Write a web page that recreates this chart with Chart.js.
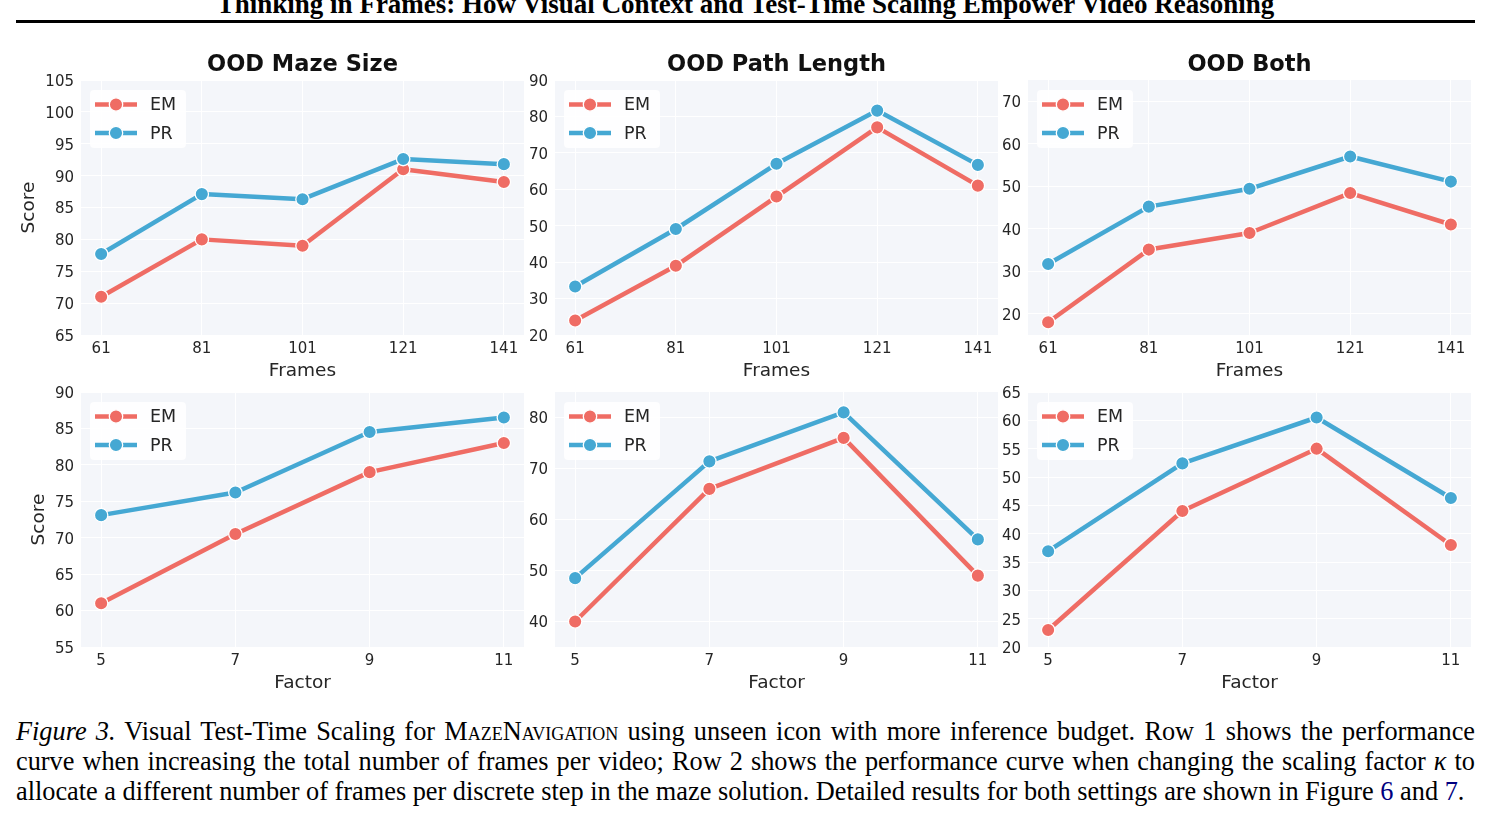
<!DOCTYPE html>
<html>
<head>
<meta charset="utf-8">
<script src="https://cdn.jsdelivr.net/npm/chart.js@4.4.1/dist/chart.umd.min.js"></script>
<style>
  html, body { margin: 0; padding: 0; background: #fff; }
  body { width: 1491px; height: 821px; position: relative; overflow: hidden; }
  .panel { position: absolute; }
  .panel canvas { display: block; }
  #header {
    position: absolute; left: 0; top: -9px; width: 1491px;
    text-align: center; white-space: nowrap;
    font: bold 27px 'Liberation Serif', serif; line-height: 27px; color: #000;
  }
  #rule { position: absolute; left: 16px; top: 20px; width: 1459px; height: 3px; background: #000; }
  #caption {
    position: absolute; left: 16px; top: 717px; width: 1459px;
    font: 26.3px 'Liberation Serif', serif; line-height: 30px; color: #000;
  }
  #caption .line { text-align: justify; text-align-last: justify; white-space: nowrap; }
  #caption .last { text-align: left; text-align-last: left; }
  #caption .sc { font-variant: small-caps; }
  #caption .ref { color: #000080; }
</style>
</head>
<body>
<div id="header">Thinking in Frames: How Visual Context and Test-Time Scaling Empower Video Reasoning</div>
<div id="rule"></div>

<div class="panel" id="p0"><canvas></canvas></div>
<div class="panel" id="p1"><canvas></canvas></div>
<div class="panel" id="p2"><canvas></canvas></div>
<div class="panel" id="p3"><canvas></canvas></div>
<div class="panel" id="p4"><canvas></canvas></div>
<div class="panel" id="p5"><canvas></canvas></div>

<div id="caption">
  <div class="line"><i>Figure 3.</i> Visual Test-Time Scaling for <span class="sc">MazeNavigation</span> using unseen icon with more inference budget. Row 1 shows the performance</div>
  <div class="line">curve when increasing the total number of frames per video; Row 2 shows the performance curve when changing the scaling factor <i>κ</i> to</div>
  <div class="line last">allocate a different number of frames per discrete step in the maze solution. Detailed results for both settings are shown in Figure <span class="ref">6</span> and <span class="ref">7</span>.</div>
</div>

<script>
/*
 * Data
**/
const seriesLabels = ['EM', 'PR']
const panelTitles = ['OOD Maze Size', 'OOD Path Length', 'OOD Both']

const frames = [61, 81, 101, 121, 141]
const factors = [5, 7, 9, 11]

// Row 1: total frames per video
const frameMazeEM = [71, 80, 79, 91, 89]
const frameMazePR = [77.7, 87.1, 86.3, 92.6, 91.8]
const framePathEM = [24, 39, 58, 77, 61]
const framePathPR = [33.3, 49.1, 67, 81.6, 66.7]
const frameBothEM = [18, 35.1, 39, 48.4, 41]
const frameBothPR = [31.7, 45.2, 49.4, 57, 51.1]

// Row 2: scaling factor
const factorMazeEM = [61, 70.5, 79, 83]
const factorMazePR = [73.1, 76.2, 84.5, 86.5]
const factorPathEM = [40, 66, 76, 49]
const factorPathPR = [48.5, 71.4, 81, 56.1]
const factorBothEM = [23, 44, 55, 38]
const factorBothPR = [36.9, 52.4, 60.5, 46.3]

// y ranges and tick steps per panel
const yRanges = [
  [65, 105, 5], [20, 90, 10], [15, 75, 10],
  [55, 90, 5], [35, 85, 10], [20, 65, 5]
]

/*
 * Styling
**/
const EM_COLOR = '#EF6C64'
const PR_COLOR = '#45A8D3'
const PLOT_BG = '#F4F6FA'
const TEXT = '#262626'

Chart.defaults.font.family = "'DejaVu Sans', sans-serif"
Chart.defaults.color = TEXT

// panel boxes: canvas left/top, y-axis width, space above the plot
const boxes = [
  { left: 0,   top: 45,  yWidth: 81, topH: 35, row: 0 },
  { left: 515, top: 45,  yWidth: 40, topH: 35, row: 0 },
  { left: 988, top: 45,  yWidth: 40, topH: 35, row: 0 },
  { left: 0,   top: 372, yWidth: 81, topH: 20, row: 1 },
  { left: 515, top: 372, yWidth: 40, topH: 20, row: 1 },
  { left: 988, top: 372, yWidth: 40, topH: 20, row: 1 }
]
const PLOT_W = 443
const PLOT_H = 255
const X_AXIS_H = 50
const RIGHT_PAD = 4

const plotBackground = {
  id: 'plotBackground',
  beforeDraw(chart) {
    const { ctx, chartArea: { left, top, width, height } } = chart
    ctx.save()
    ctx.fillStyle = PLOT_BG
    ctx.fillRect(left, top, width, height)
    ctx.restore()
  }
}

// matplotlib-style legend in the upper left of the axes
const insideLegend = {
  id: 'insideLegend',
  afterDatasetsDraw(chart) {
    const { ctx, chartArea } = chart
    const x0 = chartArea.left + 9
    const y0 = chartArea.top + 10
    ctx.save()
    ctx.fillStyle = 'rgba(255,255,255,0.85)'
    ctx.beginPath()
    ctx.roundRect(x0, y0, 96, 58, 4)
    ctx.fill()
    chart.data.datasets.forEach((ds, i) => {
      const y = y0 + 14.5 + i * 28.5
      ctx.strokeStyle = ds.borderColor
      ctx.lineWidth = ds.borderWidth
      ctx.beginPath()
      ctx.moveTo(x0 + 5, y)
      ctx.lineTo(x0 + 47, y)
      ctx.stroke()
      ctx.beginPath()
      ctx.arc(x0 + 26, y, ds.pointRadius, 0, 2 * Math.PI)
      ctx.fillStyle = ds.pointBackgroundColor
      ctx.fill()
      ctx.lineWidth = ds.pointBorderWidth
      ctx.strokeStyle = ds.pointBorderColor
      ctx.stroke()
      ctx.fillStyle = TEXT
      ctx.font = "17.5px 'DejaVu Sans'"
      ctx.textBaseline = 'middle'
      ctx.fillText(ds.label, x0 + 60, y + 1)
    })
    ctx.restore()
  }
}

const makeDataset = (label, xs, ys, color, order) => ({
  label: label,
  data: xs.map((x, i) => ({ x: x, y: ys[i] })),
  xAxisID: 'x',
  yAxisID: 'y',
  borderColor: color,
  backgroundColor: color,
  borderWidth: 4.5,
  borderJoinStyle: 'round',
  pointRadius: 6.7,
  pointBorderWidth: 1.3,
  pointBorderColor: '#ffffff',
  pointBackgroundColor: color,
  tension: 0,
  order: order
})

const panelSeries = [
  [frames, frameMazeEM, frameMazePR],
  [frames, framePathEM, framePathPR],
  [frames, frameBothEM, frameBothPR],
  [factors, factorMazeEM, factorMazePR],
  [factors, factorPathEM, factorPathPR],
  [factors, factorBothEM, factorBothPR]
]

function renderPanel(index) {
  const box = boxes[index]
  const [xs, em, pr] = panelSeries[index]
  const [yMin, yMax, yStep] = yRanges[index]
  const firstRow = box.row === 0
  const firstCol = index % 3 === 0
  const xPad = (xs[xs.length - 1] - xs[0]) * 0.05

  const width = box.yWidth + PLOT_W + RIGHT_PAD
  const height = box.topH + PLOT_H + X_AXIS_H
  const holder = document.getElementById(`p${index}`)
  holder.style.left = `${box.left}px`
  holder.style.top = `${box.top}px`
  const canvas = holder.querySelector('canvas')
  canvas.width = width
  canvas.height = height

  const yTicks = axis => {
    const ticks = []
    for (let v = Math.ceil(yMin / yStep) * yStep; v <= yMax; v += yStep) ticks.push({ value: v })
    axis.ticks = ticks
  }

  return new Chart(canvas, {
    type: 'line',
    data: {
      datasets: [
        makeDataset(seriesLabels[0], xs, em, EM_COLOR, 1),
        makeDataset(seriesLabels[1], xs, pr, PR_COLOR, 0)
      ]
    },
    options: {
      responsive: false,
      animation: false,
      layout: {
        autoPadding: false,
        padding: { top: 0, right: RIGHT_PAD, left: 0, bottom: 0 }
      },
      plugins: {
        legend: { display: false },
        tooltip: { enabled: false }
      },
      scales: {
        // top axis only carries the panel title, centred over the plot area
        top: {
          type: 'linear',
          position: 'top',
          afterFit: axis => { axis.height = box.topH },
          grid: { display: false, drawTicks: false },
          border: { display: false },
          ticks: { display: false },
          title: {
            display: firstRow,
            text: panelTitles[index % 3],
            color: '#111',
            font: { size: 22.5, weight: 'bold' },
            padding: { top: 7, bottom: 0 }
          }
        },
        x: {
          type: 'linear',
          min: xs[0] - xPad,
          max: xs[xs.length - 1] + xPad,
          afterBuildTicks: axis => { axis.ticks = xs.map(v => ({ value: v })) },
          afterFit: axis => { axis.height = X_AXIS_H },
          grid: { color: '#ffffff', lineWidth: 1, drawTicks: false },
          border: { display: false },
          ticks: { font: { size: 15 }, color: TEXT, padding: 5.5, maxRotation: 0, autoSkip: false },
          title: {
            display: true,
            text: firstRow ? 'Frames' : 'Factor',
            font: { size: 18.5 },
            color: TEXT,
            padding: { top: 0, bottom: 3 }
          }
        },
        y: {
          min: yMin,
          max: yMax,
          ticks: { font: { size: 15 }, color: TEXT, padding: 7, labelOffset: 2 },
          afterBuildTicks: yTicks,
          afterFit: axis => { axis.width = box.yWidth },
          grid: { color: '#ffffff', lineWidth: 1, drawTicks: false },
          border: { display: false },
          title: {
            display: firstCol,
            text: 'Score',
            font: { size: 18.5 },
            color: TEXT,
            padding: { top: firstRow ? 18 : 28.5, bottom: 0 }
          }
        }
      }
    },
    plugins: [plotBackground, insideLegend]
  })
}

boxes.forEach((box, i) => renderPanel(i))
</script>
</body>
</html>
